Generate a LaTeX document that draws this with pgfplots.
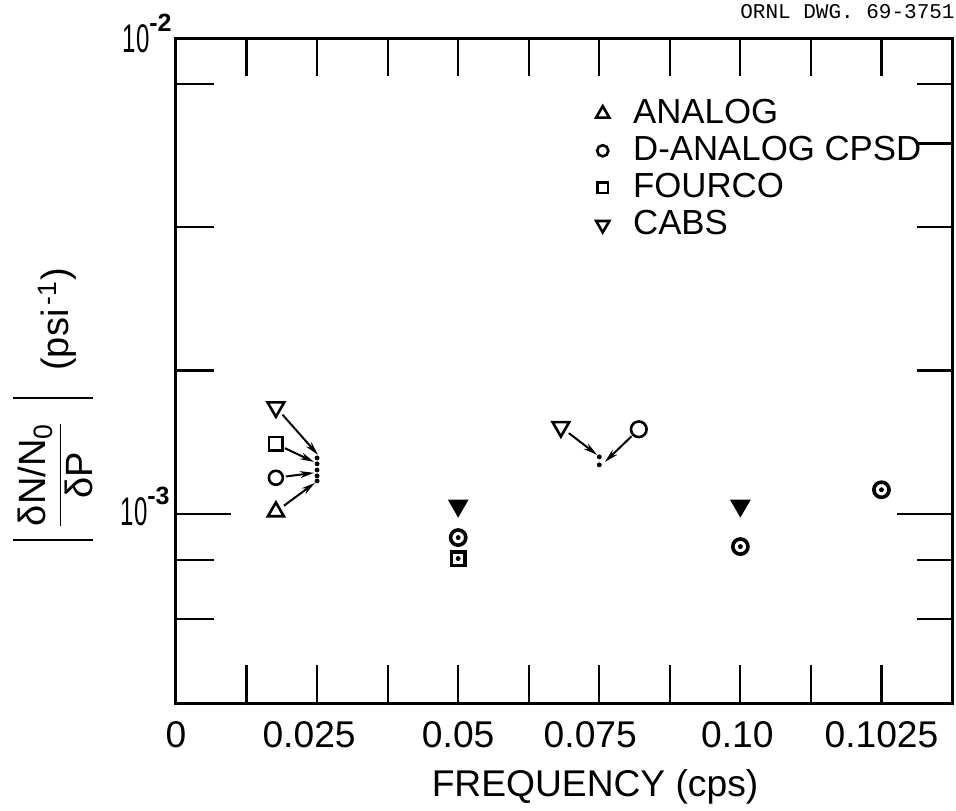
\documentclass[border=0pt]{standalone}
\usepackage{graphicx}
\usepackage{pgfplots}
\pgfplotsset{compat=1.18}
\usepackage{fontspec}
\setmainfont{Liberation Sans}
\setmonofont{Liberation Mono}
\usetikzlibrary{arrows.meta}
\newcommand\fs[1]{\fontsize{#1}{1.2\dimexpr #1pt\relax}\selectfont}
\newcommand\absbar{\rule[-12pt]{1.3pt}{40pt}}
\pgfplotsset{
  every axis/.append style={
    at={(0pt,0pt)}, anchor=south west,
    scale only axis, width=388pt, height=332.5pt,
    xmin=0, xmax=0.1375, ymode=log, ymin=4e-4, ymax=1e-2,
    tick align=inside,
    axis line style={line width=1.5pt},
    major tick style={black, line width=1.1pt},
    major tick length=19pt,
    clip=false,
  },
}
\tikzset{
  mymk/.style={only marks, mark options={solid, line width=1.3pt, fill=white}},
  mymkd/.style={only marks, mark options={solid, line width=1.3pt, fill=white, rotate=180}},
  mythick/.style={only marks, mark options={solid, line width=1.8pt, fill=white}},
}
\begin{document}
\begin{tikzpicture}
\begin{axis}[
  xtick={0,0.0125,0.025,0.0375,0.05,0.0625,0.075,0.0875,0.1,0.1125,0.125,0.1375},
  xticklabels={0,,0.025\hspace*{8pt},,0.05,,0.075\hspace*{9pt},,0.10\hspace*{3pt},,0.1025,},
  xticklabel style={font=\fs{18.6}, yshift=-5.5pt},
  ytick={6e-4,8e-4,2e-3,4e-3,8e-3},
  yticklabels={},
  ytick pos=left,
  xlabel={FREQUENCY (cps)},
  xlabel style={font=\fs{18.6}, at={(axis description cs:0.54,-0.126)}, anchor=center},
  ylabel={\fs{19}\absbar\hspace*{5pt}$\displaystyle\frac{\mbox{δN/N\textsubscript{0}}}{\mbox{δP}}$\hspace*{11pt}\absbar\hspace*{13pt}(psi\textsuperscript{\,-1})},
  ylabel style={at={(axis description cs:-0.1585,0.449)}, anchor=center, inner sep=0pt},
  legend style={draw=none, fill=none, inner sep=0pt, font=\fs{17.4},
    at={(axis description cs:0.536,0.91)}, anchor=north west,
    row sep=3pt, cells={anchor=west},
    nodes={inner xsep=0pt, inner ysep=0pt, text height=12.5pt, text depth=3pt}},
  legend image code/.code={\path (-5pt,0pt) (15pt,0pt); \draw[#1] plot coordinates {(0pt,0pt)};},
]
% legend entries
\addlegendimage{mymk, mark=triangle, mark size=3.8pt}
\addlegendentry{ANALOG}
\addlegendimage{mymk, mark=o, mark size=2.8pt}
\addlegendentry{D-ANALOG CPSD}
\addlegendimage{mymk, mark=square, mark size=2.7pt}
\addlegendentry{FOURCO}
\addlegendimage{mymkd, mark=triangle, mark size=3.8pt}
\addlegendentry{CABS}

% group at 0.025 (markers displaced, arrows to dots)
\addplot[mymkd, mark=triangle, mark size=4.8pt, forget plot] coordinates {(0.0177,1.675e-3)};
\addplot[mymk, mark=square, mark size=3.4pt, forget plot] coordinates {(0.0177,1.402e-3)};
\addplot[mymk, mark=o, mark size=3.5pt, forget plot] coordinates {(0.0177,1.19e-3)};
\addplot[mymk, mark=triangle, mark size=4.6pt, forget plot] coordinates {(0.0177,1.01e-3)};
\addplot[only marks, mark=*, mark size=1pt, black, forget plot] coordinates {
 (0.025,1.31e-3) (0.025,1.273e-3) (0.025,1.236e-3) (0.025,1.201e-3) (0.025,1.172e-3)};

% group at 0.075
\addplot[mymkd, mark=triangle, mark size=4.8pt, forget plot] coordinates {(0.0682,1.522e-3)};
\addplot[mymk, mark=o, mark size=3.9pt, forget plot] coordinates {(0.0820,1.505e-3)};
\addplot[only marks, mark=*, mark size=1pt, black, forget plot] coordinates {(0.075,1.317e-3) (0.075,1.267e-3)};

% group at 0.05
\addplot[only marks, mark=triangle*, mark size=5pt, mark options={rotate=180, fill=black, line width=1pt}, forget plot] coordinates {(0.05,1.04e-3)};
\addplot[mythick, mark=o, mark size=3.8pt, forget plot] coordinates {(0.05,8.91e-4)};
\addplot[mythick, mark=square, mark size=3.4pt, forget plot] coordinates {(0.05,8.05e-4)};
\addplot[only marks, mark=*, mark size=1pt, black, forget plot] coordinates {(0.05,8.91e-4) (0.05,8.05e-4)};

% group at 0.10
\addplot[only marks, mark=triangle*, mark size=5pt, mark options={rotate=180, fill=black, line width=1pt}, forget plot] coordinates {(0.10,1.04e-3)};
\addplot[mythick, mark=o, mark size=3.8pt, forget plot] coordinates {(0.10,8.53e-4)};
\addplot[only marks, mark=*, mark size=1pt, black, forget plot] coordinates {(0.10,8.53e-4)};

% point at 0.125
\addplot[mythick, mark=o, mark size=3.8pt, forget plot] coordinates {(0.125,1.123e-3)};
\addplot[only marks, mark=*, mark size=1pt, black, forget plot] coordinates {(0.125,1.123e-3)};

% arrows
\draw[line width=1pt, -{Stealth[length=7pt,width=3.5pt]}, shorten <=5pt] (axis cs:0.0177,1.675e-3) -- (axis cs:0.02516,1.33e-3);
\draw[line width=1pt, -{Stealth[length=7pt,width=3.5pt]}, shorten <=5pt] (axis cs:0.0177,1.402e-3) -- (axis cs:0.02445,1.285e-3);
\draw[line width=1pt, -{Stealth[length=7pt,width=3.5pt]}, shorten <=5pt] (axis cs:0.0177,1.19e-3) -- (axis cs:0.02445,1.219e-3);
\draw[line width=1pt, -{Stealth[length=7pt,width=3.5pt]}, shorten <=5pt] (axis cs:0.0177,1.01e-3) -- (axis cs:0.0246,1.161e-3);
\draw[line width=1pt, -{Stealth[length=7pt,width=3.5pt]}, shorten <=5pt] (axis cs:0.0682,1.522e-3) -- (axis cs:0.0746,1.33e-3);
\draw[line width=1pt, -{Stealth[length=7pt,width=3.5pt]}, shorten <=5pt] (axis cs:0.0820,1.505e-3) -- (axis cs:0.0760,1.285e-3);
\end{axis}

% right-hand minor ticks
\begin{axis}[axis line style={draw=none}, xtick=\empty,
  ytick={6e-4,8e-4,2e-3,4e-3,6e-3,8e-3}, yticklabels={}, ytick pos=right,
  major tick length=17.5pt]
\end{axis}
% long ticks at 10^-3
\begin{axis}[axis line style={draw=none}, xtick=\empty,
  ytick={1e-3}, yticklabels={}, major tick length=27.5pt]
\end{axis}

% y tick labels
\node[anchor=base east, inner sep=0pt] at (-3pt,89pt)
  {\fs{20}\scalebox{0.6}[1]{10}\raisebox{10.5pt}{\fs{12.5}\bfseries -3}};
\node[anchor=base east, inner sep=0pt] at (-2pt,325pt)
  {\fs{20}\scalebox{0.6}[1]{10}\raisebox{10.5pt}{\fs{12.5}\bfseries -2}};
% drawing number
\node[anchor=base east, inner sep=0pt, font=\ttfamily\fs{10.5}] at (389.5pt,342pt) {ORNL DWG. 69-3751};

\pgfresetboundingbox
\path[use as bounding box] (-88pt,-53.5pt) rectangle (390pt,351.5pt);
\end{tikzpicture}
\end{document}
